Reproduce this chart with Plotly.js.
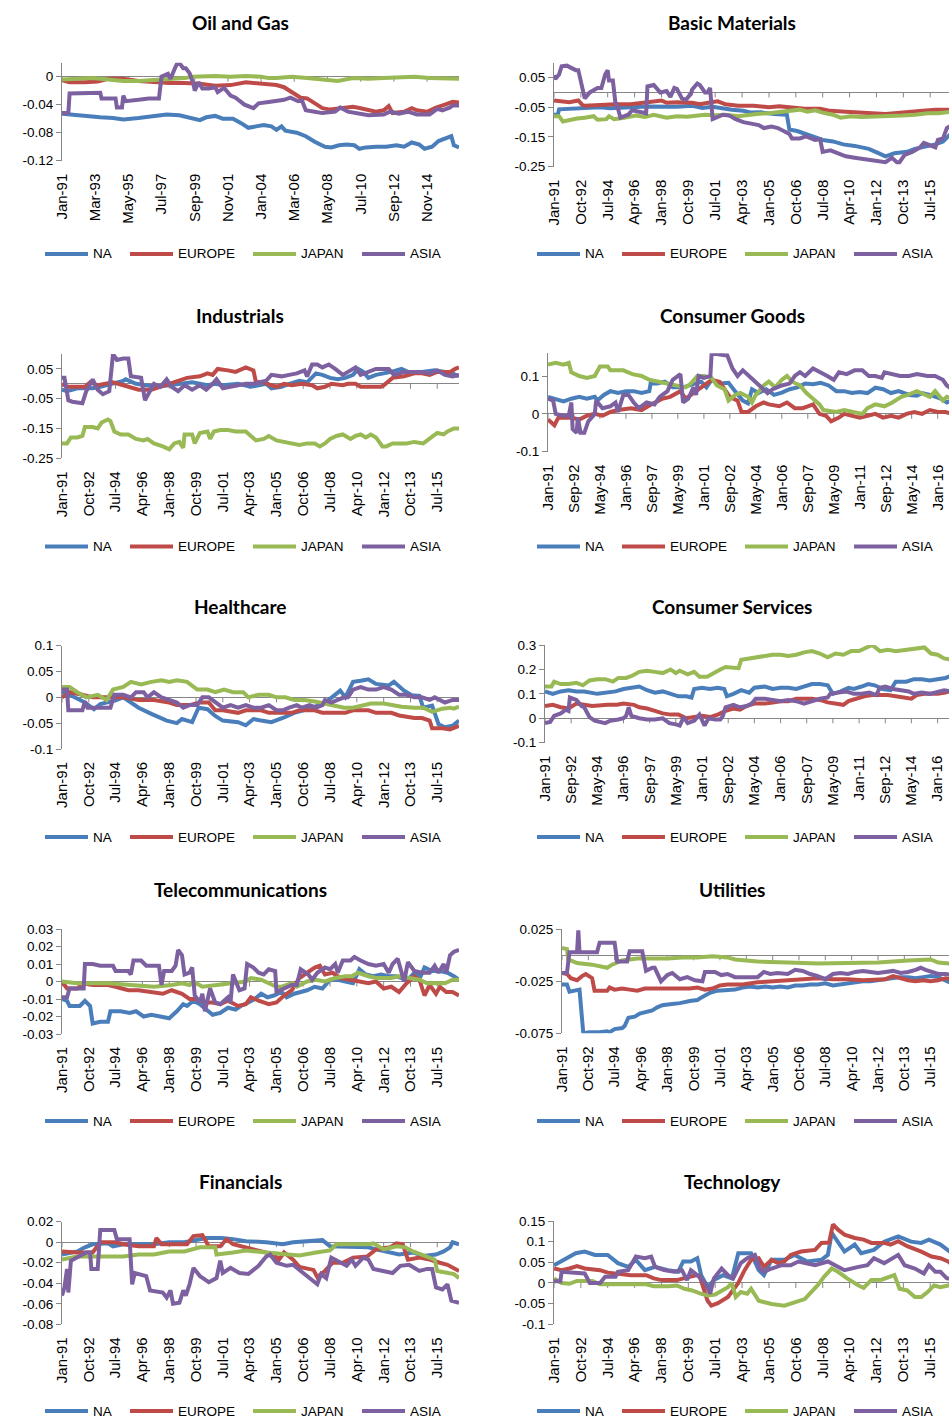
<!DOCTYPE html>
<html><head><meta charset="utf-8">
<script src="https://cdn.plot.ly/plotly-3.0.1.min.js"></script>
<style>html,body{margin:0;padding:0;overflow:hidden;background:#fff}#chart{width:984px;height:1421px}</style>
</head><body><div id="chart"></div>
<script>
// ---------------- DATA ----------------
const regions = ["NA", "EUROPE", "JAPAN", "ASIA"];
const sectors = ["Oil and Gas", "Basic Materials", "Industrials", "Consumer Goods", "Healthcare",
  "Consumer Services", "Telecommunications", "Utilities", "Financials", "Technology"];
const dateStart = "1991-01-01", dateEnd = "2016-12-01";

// [decimal year, value]
const oilNA = [[1991,-.053],[1991.8,-.055],[1992.5,-.057],[1993.5,-.058],[1994.3,-.059],[1995,-.061],[1996,-.059],[1997,-.056],[1997.8,-.054],[1998.7,-.055],[1999.6,-.06],[2000,-.062],[2000.4,-.058],[2001,-.056],[2001.5,-.06],[2002.2,-.06],[2002.7,-.066],[2003.2,-.073],[2003.7,-.071],[2004.2,-.069],[2004.7,-.071],[2005,-.076],[2005.3,-.071],[2005.6,-.077],[2006.3,-.08],[2006.9,-.085],[2007.5,-.093],[2008.2,-.1],[2008.6,-.101],[2009.1,-.098],[2009.6,-.097],[2010.1,-.098],[2010.4,-.103],[2010.8,-.101],[2011.5,-.1],[2012.2,-.1],[2012.8,-.098],[2013.3,-.1],[2013.8,-.094],[2014.3,-.097],[2014.7,-.103],[2015.2,-.1],[2015.6,-.092],[2016,-.089],[2016.4,-.085],[2016.6,-.098],[2016.92,-.101]];
const oilEU = [[1991,-.005],[1991.5,-.008],[1992.5,-.008],[1993.3,-.007],[1994,-.003],[1995,-.003],[1996,-.006],[1997,-.008],[1998,-.009],[1999,-.009],[2000,-.01],[2001,-.013],[2002,-.012],[2003,-.008],[2004,-.01],[2005,-.012],[2005.5,-.015],[2006,-.022],[2006.6,-.03],[2007,-.031],[2007.5,-.038],[2008,-.045],[2008.5,-.047],[2009.2,-.045],[2010,-.043],[2010.5,-.045],[2011.5,-.05],[2012,-.048],[2012.3,-.042],[2012.6,-.052],[2013.3,-.05],[2013.8,-.045],[2014.2,-.048],[2014.8,-.05],[2015.4,-.044],[2016,-.04],[2016.5,-.036],[2016.92,-.037]];
const oilJP = [[1991,-.004],[1992,-.003],[1993,-.002],[1994,-.004],[1995,-.006],[1996,-.006],[1997,-.005],[1998,-.003],[1999,-.002],[1999.5,0],[2001,.001],[2002,0],[2003,.001],[2004,0],[2004.5,-.002],[2005,-.002],[2006,0],[2007,-.002],[2008,-.004],[2009,-.006],[2010,-.002],[2011,-.003],[2012,-.002],[2013,-.001],[2014,0],[2015,-.002],[2016,-.002],[2016.92,-.003]];
const oilAS = [[1991,-.052],[1991.4,-.052],[1991.5,-.024],[1993.5,-.023],[1993.6,-.031],[1994.5,-.031],[1994.6,-.044],[1994.9,-.044],[1995,-.027],[1995.2,-.035],[1996,-.033],[1996.7,-.031],[1997.3,-.031],[1997.5,0],[1997.9,.004],[1998.1,-.003],[1998.3,.01],[1998.6,.022],[1998.9,.012],[1999.1,.012],[1999.3,.005],[1999.6,-.01],[1999.7,-.02],[1999.9,-.008],[2000.2,-.017],[2000.6,-.017],[2001,-.015],[2001.2,-.022],[2001.6,-.016],[2002,-.027],[2002.3,-.03],[2002.9,-.04],[2003.5,-.045],[2003.8,-.038],[2004.5,-.036],[2005.5,-.033],[2005.9,-.03],[2006.4,-.035],[2006.7,-.034],[2006.9,-.048],[2007.5,-.05],[2008,-.052],[2008.8,-.05],[2009.2,-.044],[2009.7,-.05],[2010.3,-.053],[2011,-.055],[2012,-.054],[2012.4,-.05],[2013,-.053],[2013.6,-.05],[2014.2,-.054],[2015,-.054],[2015.5,-.046],[2015.8,-.048],[2016.3,-.044],[2016.5,-.041],[2016.92,-.041]];

const bmNA = [[1991,-.075],[1991.25,-.075],[1991.35,-.057],[1992,-.055],[1993,-.052],[1994,-.05],[1994.7,-.053],[1995.5,-.053],[1996,-.05],[1997,-.047],[1998,-.048],[1999,-.048],[2000,-.045],[2000.7,-.052],[2001.3,-.048],[2002,-.055],[2002.6,-.058],[2003.3,-.062],[2003.8,-.068],[2004.5,-.067],[2005.3,-.073],[2006.2,-.075],[2006.3,-.125],[2006.8,-.13],[2007.8,-.15],[2008.5,-.16],[2009.2,-.165],[2009.8,-.175],[2010.6,-.18],[2011.5,-.19],[2012.2,-.205],[2012.6,-.215],[2013.2,-.205],[2014,-.2],[2014.5,-.19],[2015.3,-.18],[2015.8,-.175],[2016.3,-.165],[2016.6,-.15],[2016.92,-.135]];
const bmEU = [[1991,-.027],[1991.5,-.03],[1992,-.033],[1992.6,-.027],[1992.8,-.042],[1993,-.045],[1994,-.042],[1995,-.04],[1996,-.04],[1996.5,-.036],[1997.5,-.03],[1998,-.027],[1998.3,-.035],[1999,-.033],[2000,-.035],[2000.5,-.04],[2001.3,-.032],[2001.7,-.03],[2002.2,-.04],[2003,-.045],[2004,-.045],[2005,-.05],[2005.7,-.047],[2006.3,-.05],[2007.3,-.055],[2008.3,-.055],[2009,-.062],[2010,-.065],[2011,-.068],[2012,-.07],[2012.6,-.073],[2013.2,-.07],[2014,-.065],[2015,-.062],[2015.8,-.058],[2016.92,-.058]];
const bmJP = [[1991,-.08],[1991.3,-.08],[1991.6,-.098],[1992,-.093],[1992.5,-.088],[1993,-.085],[1993.6,-.08],[1993.8,-.092],[1994.4,-.09],[1994.6,-.08],[1994.9,-.09],[1995.6,-.085],[1996.3,-.078],[1996.9,-.083],[1997.5,-.075],[1998.3,-.085],[1999,-.08],[1999.7,-.082],[2000.3,-.078],[2000.8,-.075],[2001.5,-.077],[2002.2,-.075],[2003,-.08],[2003.7,-.075],[2004.3,-.072],[2005,-.07],[2005.7,-.067],[2006.3,-.063],[2007,-.058],[2007.5,-.065],[2008,-.06],[2008.5,-.068],[2009.2,-.075],[2009.7,-.085],[2010.3,-.08],[2011,-.083],[2012,-.082],[2013,-.08],[2013.7,-.078],[2014.5,-.075],[2015.3,-.07],[2016,-.07],[2016.92,-.065]];
const bmAS = [[1991,.058],[1991.1,.045],[1991.3,.06],[1991.5,.088],[1991.8,.09],[1992,.085],[1992.4,.075],[1992.6,.075],[1992.9,0],[1993,-.02],[1993.3,0],[1993.8,.015],[1994.1,.015],[1994.3,.06],[1994.5,.075],[1994.6,.04],[1994.8,.04],[1995,-.035],[1995.1,-.04],[1995.3,-.085],[1995.6,-.08],[1995.8,-.075],[1996.1,-.06],[1996.6,-.065],[1997,-.07],[1997.1,.02],[1997.5,.025],[1997.9,0],[1998.3,.005],[1998.6,-.015],[1998.8,.015],[1999,.012],[1999.3,-.02],[1999.6,-.025],[1999.9,-.005],[2000,.01],[2000.3,.03],[2000.5,.025],[2000.8,0],[2001,0],[2001.2,.015],[2001.3,-.09],[2001.6,-.085],[2002,-.075],[2002.4,-.078],[2002.8,-.09],[2003.3,-.1],[2003.8,-.105],[2004.3,-.11],[2004.7,-.12],[2005.2,-.115],[2005.6,-.12],[2006,-.13],[2006.3,-.14],[2006.5,-.155],[2007,-.155],[2007.4,-.148],[2008,-.16],[2008.3,-.158],[2008.5,-.2],[2009,-.195],[2009.5,-.205],[2010,-.215],[2010.6,-.22],[2011.4,-.225],[2012.1,-.23],[2012.6,-.235],[2013,-.22],[2013.3,-.235],[2013.5,-.235],[2013.8,-.21],[2014.3,-.2],[2014.8,-.185],[2015.1,-.17],[2015.5,-.18],[2015.8,-.185],[2016,-.16],[2016.3,-.155],[2016.6,-.12],[2016.92,-.11]];

const inNA = [[1991,-.02],[1991.3,-.025],[1992,-.015],[1993,-.015],[1993.5,-.01],[1994.3,0],[1995,.01],[1995.2,.015],[1995.8,0],[1996.5,-.005],[1997.2,-.01],[1998,-.005],[1998.8,0],[1999.5,.005],[2000.5,-.005],[2001,0],[2001.5,-.005],[2002.5,0],[2003.3,-.01],[2004,-.005],[2004.3,0],[2004.7,-.015],[2005.3,-.01],[2005.8,0],[2006.5,.01],[2007,.005],[2007.6,.035],[2008,.03],[2008.5,.02],[2009,.015],[2009.5,.02],[2010,.03],[2010.3,.05],[2010.7,.04],[2011,.02],[2011.5,.03],[2012,.035],[2012.5,.04],[2013.2,.05],[2013.6,.04],[2014.5,.04],[2015.3,.045],[2016,.04],[2016.5,.035],[2016.92,.025]];
const inEU = [[1991,0],[1991.3,-.01],[1992.5,-.01],[1992.8,.005],[1993.3,-.005],[1994,0],[1994.3,.005],[1995,-.005],[1996,-.02],[1996.8,-.02],[1997.3,-.01],[1998,0],[1998.6,.01],[1999.2,.02],[2000,.025],[2000.5,.035],[2000.8,.03],[2001.2,.05],[2001.8,.045],[2002.3,.04],[2003,.055],[2003.5,.045],[2003.7,.005],[2004.2,.005],[2004.7,-.005],[2005,-.01],[2005.5,0],[2006,-.005],[2006.7,0],[2007.3,-.005],[2007.7,-.015],[2008.2,-.01],[2008.6,0],[2009.3,-.005],[2009.7,0],[2010.2,0],[2010.5,-.01],[2011.3,-.01],[2011.8,-.01],[2012,-.005],[2012.3,.01],[2012.6,.02],[2013.3,.025],[2014,.035],[2014.5,.035],[2015,.03],[2015.5,.04],[2016.3,.04],[2016.7,.05],[2016.92,.055]];
const inJP = [[1991,-.2],[1991.3,-.2],[1991.6,-.18],[1992,-.18],[1992.3,-.175],[1992.5,-.145],[1993,-.145],[1993.3,-.15],[1993.6,-.13],[1994,-.12],[1994.2,-.125],[1994.4,-.16],[1994.8,-.17],[1995.3,-.17],[1995.8,-.185],[1996.3,-.19],[1996.6,-.185],[1997,-.2],[1997.6,-.21],[1998,-.22],[1998.3,-.2],[1998.7,-.195],[1998.9,-.215],[1999,-.17],[1999.5,-.17],[1999.7,-.2],[2000,-.165],[2000.5,-.16],[2000.7,-.185],[2000.9,-.16],[2001.3,-.155],[2001.8,-.155],[2002.3,-.16],[2003,-.16],[2003.3,-.175],[2003.7,-.19],[2004.2,-.185],[2004.5,-.175],[2005,-.19],[2005.5,-.195],[2006,-.2],[2006.5,-.205],[2007,-.2],[2007.5,-.2],[2007.8,-.21],[2008.2,-.2],[2008.5,-.185],[2008.9,-.175],[2009.3,-.17],[2009.8,-.185],[2010.2,-.175],[2010.5,-.17],[2010.8,-.18],[2011.2,-.17],[2011.5,-.18],[2011.9,-.21],[2012.2,-.21],[2012.6,-.2],[2013.5,-.2],[2014,-.195],[2014.6,-.2],[2015.1,-.18],[2015.5,-.165],[2015.9,-.17],[2016.2,-.16],[2016.6,-.15],[2016.92,-.15]];
const inAS = [[1991,.02],[1991.2,.02],[1991.4,-.055],[1991.7,-.06],[1992.3,-.065],[1992.6,-.025],[1993,.015],[1993.3,-.02],[1993.7,-.035],[1994.1,-.025],[1994.3,.1],[1994.6,.08],[1995,.085],[1995.3,.085],[1995.5,.025],[1996.2,.02],[1996.4,-.055],[1996.7,-.03],[1997,0],[1997.4,-.01],[1997.8,.015],[1998.2,-.01],[1998.6,-.025],[1999,-.005],[1999.5,-.02],[2000,-.005],[2000.4,-.02],[2000.8,0],[2001.1,.015],[2001.5,-.015],[2002,-.01],[2002.5,-.005],[2003,0],[2003.5,0],[2004.3,.01],[2004.7,.03],[2005.3,.025],[2005.8,.03],[2006.3,.035],[2006.8,.045],[2007,.025],[2007.3,.065],[2007.7,.065],[2008,.055],[2008.4,.065],[2008.8,.05],[2009.3,.03],[2009.8,.045],[2010.2,.055],[2010.5,.03],[2011,.04],[2011.5,.05],[2012.3,.05],[2012.7,.03],[2013.3,.04],[2014,.04],[2014.5,.04],[2015,.035],[2015.5,.045],[2016,.03],[2016.5,.025],[2016.92,.03]];

const cgNA = [[1991,.045],[1991.5,.04],[1992,.033],[1992.5,.04],[1993,.045],[1993.5,.04],[1994,.045],[1994.2,.035],[1994.6,.05],[1995,.06],[1995.5,.055],[1996,.06],[1996.5,.06],[1997,.055],[1997.5,.06],[1997.6,.08],[1998,.08],[1998.5,.085],[1999,.07],[1999.7,.07],[2000.3,.08],[2000.8,.085],[2001.2,.07],[2001.5,.09],[2002,.08],[2002.6,.082],[2003,.06],[2003.5,.035],[2003.8,.028],[2004.1,.065],[2004.5,.055],[2005,.065],[2005.5,.05],[2006,.056],[2006.5,.065],[2007,.07],[2007.5,.08],[2008,.078],[2008.5,.082],[2009,.075],[2009.5,.06],[2010,.06],[2010.5,.055],[2011,.058],[2011.5,.055],[2012,.069],[2012.5,.065],[2013,.055],[2013.5,.06],[2014.2,.05],[2014.7,.048],[2015,.055],[2015.5,.05],[2016.3,.038],[2016.6,.03],[2016.92,.035]];
const cgEU = [[1991,-.015],[1991.4,-.03],[1991.7,-.01],[1992.5,-.01],[1993,-.015],[1993.5,-.005],[1994,0],[1994.5,-.005],[1995,.005],[1995.5,.01],[1996.3,.015],[1997,.01],[1997.4,.02],[1997.8,.03],[1998.3,.04],[1998.8,.045],[1999.5,.06],[1999.8,.04],[2000.2,.05],[2000.6,.065],[2001,.075],[2001.5,.09],[2002,.085],[2002.4,.06],[2002.7,.045],[2003.2,.035],[2003.4,.005],[2003.8,.005],[2004.3,.02],[2004.8,.03],[2005.2,.025],[2005.8,.02],[2006.3,.03],[2006.8,.015],[2007.3,.015],[2007.7,.02],[2008,.025],[2008.4,0],[2008.8,-.005],[2009.2,-.02],[2009.7,-.01],[2010,0],[2010.5,-.005],[2011,-.01],[2011.5,-.005],[2012,0],[2012.5,-.01],[2013,-.005],[2013.5,-.01],[2014,0],[2014.5,.005],[2015,0],[2015.5,.01],[2016,.005],[2016.5,.005],[2016.92,0]];
const cgJP = [[1991,.13],[1991.5,.135],[1992,.13],[1992.3,.135],[1992.5,.11],[1993,.1],[1993.5,.095],[1994,.1],[1994.3,.125],[1994.8,.125],[1995,.115],[1995.8,.115],[1996.4,.105],[1997,.1],[1997.5,.09],[1998.2,.085],[1998.7,.08],[1999.2,.075],[1999.8,.07],[2000.2,.08],[2000.6,.1],[2001,.1],[2001.5,.095],[2001.8,.075],[2002.3,.065],[2002.6,.035],[2003,.05],[2003.3,.055],[2003.8,.045],[2004.1,.03],[2004.3,.05],[2004.8,.075],[2005.2,.085],[2005.6,.07],[2006,.09],[2006.3,.1],[2006.7,.085],[2007.2,.075],[2007.6,.055],[2008,.04],[2008.4,.025],[2008.7,.01],[2009.5,.005],[2010,.01],[2010.7,.005],[2011.2,0],[2011.5,.015],[2012,.025],[2012.6,.02],[2013.1,.03],[2013.7,.045],[2014.1,.05],[2014.7,.06],[2015,.055],[2015.5,.045],[2015.8,.06],[2016.3,.035],[2016.6,.045],[2016.92,.04]];
const cgAS = [[1991,.04],[1991.3,.035],[1991.5,0],[1992,-.005],[1992.3,-.005],[1992.5,.03],[1992.6,-.04],[1992.8,-.05],[1992.95,-.01],[1993.05,-.05],[1993.3,-.05],[1993.6,-.02],[1994,0],[1994.1,.035],[1994.5,.015],[1995,.02],[1995.3,.03],[1995.5,.005],[1995.8,.05],[1996.2,.05],[1996.5,.03],[1996.8,.015],[1997.3,.03],[1997.8,.025],[1998.2,.045],[1998.7,.06],[1999,.09],[1999.5,.105],[1999.7,.03],[2000,.04],[2000.3,.07],[2000.5,.05],[2000.7,.1],[2001,.095],[2001.4,.1],[2001.5,.16],[2002.3,.155],[2002.5,.155],[2002.8,.12],[2003.2,.1],[2003.5,.115],[2004,.095],[2004.4,.08],[2004.8,.065],[2005.1,.055],[2005.4,.065],[2006,.075],[2006.5,.08],[2006.8,.1],[2007.2,.11],[2007.5,.1],[2008,.12],[2008.5,.11],[2008.9,.1],[2009.3,.09],[2009.7,.11],[2010.2,.105],[2010.7,.115],[2011.2,.115],[2011.6,.1],[2012,.1],[2012.4,.095],[2012.6,.11],[2013,.105],[2013.6,.1],[2014.2,.1],[2014.7,.105],[2015.3,.1],[2015.8,.1],[2016.3,.09],[2016.6,.075],[2016.92,.065]];

const hcNA = [[1991,.01],[1991.5,.005],[1992.5,-.01],[1993.1,-.023],[1993.5,-.013],[1994.5,-.006],[1995,0],[1996,-.02],[1996.8,-.032],[1997.8,-.045],[1998.5,-.05],[1998.8,-.042],[1999.5,-.048],[1999.9,-.02],[2000.5,-.023],[2001,-.036],[2001.5,-.045],[2002.5,-.048],[2003,-.054],[2003.5,-.042],[2004,-.045],[2004.7,-.048],[2005.5,-.039],[2006.2,-.03],[2007,-.023],[2008,-.013],[2008.5,-.003],[2009.2,.013],[2009.5,0],[2010,.03],[2010.5,.032],[2011,.035],[2011.5,.026],[2012.3,.023],[2012.7,.03],[2013.3,.013],[2013.8,.004],[2014.3,.003],[2014.6,-.02],[2015.2,-.016],[2015.6,-.052],[2016,-.058],[2016.5,-.055],[2016.92,-.045]];
const hcEU = [[1991,0],[1991.5,.01],[1992.3,.005],[1993,0],[1994,0],[1995,0],[1996,-.005],[1997,-.005],[1998,-.01],[1998.5,-.015],[1999.3,-.015],[2000,-.01],[2000.6,-.01],[2001,-.025],[2001.5,-.025],[2002.5,-.03],[2003,-.025],[2004,-.025],[2004.5,-.03],[2005.5,-.03],[2006,-.03],[2006.5,-.025],[2007.5,-.025],[2008,-.03],[2009,-.03],[2009.5,-.03],[2010,-.025],[2011,-.025],[2011.5,-.03],[2012.5,-.03],[2013,-.035],[2014,-.04],[2014.5,-.04],[2015,-.045],[2015.2,-.06],[2015.8,-.06],[2016.3,-.062],[2016.92,-.055]];
const hcJP = [[1991,.02],[1991.5,.02],[1992,.01],[1992.6,0],[1993.3,.005],[1993.9,-.005],[1994.3,.015],[1995,.02],[1995.5,.03],[1996.2,.025],[1996.8,.03],[1997.5,.033],[1998,.03],[1998.5,.033],[1999.2,.03],[1999.8,.015],[2000.5,.015],[2001,.01],[2001.6,.015],[2002.2,.01],[2002.8,.01],[2003.2,0],[2003.8,.005],[2004.5,.005],[2005,0],[2005.6,0],[2006.2,-.005],[2006.8,-.005],[2007.5,-.008],[2008.2,-.012],[2008.8,-.015],[2009.4,-.02],[2010,-.02],[2010.6,-.015],[2011.2,-.012],[2012,-.012],[2012.6,-.015],[2013.2,-.018],[2014,-.02],[2014.6,-.02],[2015.2,-.028],[2015.8,-.022],[2016.3,-.02],[2016.6,-.022],[2016.92,-.018]];
const hcAS = [[1991,.015],[1991.3,.015],[1991.4,-.025],[1992.3,-.025],[1992.5,-.008],[1992.7,-.02],[1993.5,-.02],[1994.2,-.02],[1994.4,.005],[1995,.005],[1995.5,0],[1995.8,.01],[1996.3,.01],[1996.6,0],[1997,.01],[1997.5,0],[1998,-.005],[1998.5,-.01],[1998.9,-.02],[1999.3,-.015],[1999.8,-.015],[2000.2,0],[2000.6,0],[2001,-.01],[2001.5,-.02],[2002,-.015],[2002.5,-.02],[2003,-.015],[2003.5,-.02],[2004,-.02],[2004.5,-.015],[2005,-.025],[2005.4,-.025],[2005.8,-.02],[2006.3,-.015],[2006.7,-.02],[2007.2,-.015],[2007.6,-.02],[2008,-.015],[2008.2,-.005],[2008.6,-.01],[2009,-.005],[2009.4,0],[2009.7,0],[2010,.015],[2010.5,.02],[2011,.015],[2011.5,.015],[2012,.02],[2012.5,.015],[2013,.005],[2013.5,.005],[2014,0],[2014.5,0],[2015,-.005],[2015.3,0],[2015.7,-.005],[2016,-.01],[2016.5,-.005],[2016.92,-.005]];

const csNA = [[1991,.11],[1991.5,.1],[1992,.11],[1992.5,.115],[1993,.11],[1993.5,.11],[1994.3,.1],[1995,.105],[1995.5,.11],[1996,.12],[1996.5,.125],[1997,.13],[1997.5,.115],[1998,.105],[1998.5,.11],[1999,.1],[1999.5,.09],[2000,.09],[2000.3,.085],[2000.5,.12],[2001,.125],[2001.5,.12],[2002,.125],[2002.4,.12],[2002.6,.09],[2003,.1],[2003.5,.115],[2004,.105],[2004.3,.125],[2005,.13],[2005.5,.12],[2006,.125],[2006.5,.125],[2007,.12],[2007.5,.13],[2008,.14],[2008.5,.14],[2009,.135],[2009.3,.1],[2009.8,.11],[2010.3,.125],[2010.7,.12],[2011.2,.13],[2011.6,.14],[2012,.135],[2012.5,.12],[2013,.115],[2013.3,.15],[2014,.15],[2014.5,.16],[2015,.16],[2015.5,.155],[2016,.16],[2016.5,.165],[2016.92,.175]];
const csEU = [[1991,.05],[1991.5,.055],[1992,.045],[1992.5,.04],[1993,.06],[1993.5,.055],[1994,.05],[1995,.055],[1995.6,.055],[1996,.06],[1996.7,.055],[1997,.045],[1997.5,.04],[1998,.03],[1998.5,.02],[1999,.015],[1999.5,.015],[2000,0],[2000.5,.005],[2001,.01],[2001.5,.005],[2002,.015],[2002.5,.03],[2003,.04],[2003.4,.035],[2003.8,.05],[2004.3,.06],[2005,.06],[2005.5,.065],[2006,.07],[2006.5,.07],[2007,.08],[2008,.08],[2008.5,.075],[2009,.065],[2009.5,.06],[2010,.055],[2010.3,.07],[2010.8,.08],[2011.3,.09],[2011.8,.095],[2012.3,.095],[2012.8,.095],[2013.3,.09],[2013.8,.085],[2014.3,.08],[2014.7,.095],[2015.2,.1],[2015.7,.1],[2016,.1],[2016.5,.105],[2016.92,.115]];
const csJP = [[1991,.13],[1991.4,.13],[1991.6,.15],[1992,.14],[1992.5,.14],[1993,.145],[1993.4,.135],[1993.8,.155],[1994.3,.16],[1994.8,.16],[1995.3,.15],[1995.7,.165],[1996.2,.165],[1996.6,.175],[1997,.19],[1997.5,.195],[1998,.19],[1998.5,.185],[1999,.2],[1999.3,.185],[1999.6,.195],[2000.1,.18],[2000.5,.19],[2000.8,.17],[2001.3,.17],[2001.8,.19],[2002.2,.2],[2002.5,.21],[2003,.205],[2003.3,.205],[2003.5,.24],[2004,.245],[2004.6,.25],[2005,.255],[2005.5,.26],[2006,.26],[2006.5,.255],[2007,.26],[2007.5,.27],[2008,.275],[2008.5,.265],[2009,.25],[2009.5,.265],[2010,.26],[2010.5,.275],[2011,.275],[2011.5,.29],[2011.8,.3],[2012.3,.275],[2012.8,.28],[2013.3,.275],[2013.8,.28],[2014.3,.285],[2014.8,.29],[2015.2,.29],[2015.6,.265],[2016,.26],[2016.4,.245],[2016.92,.24]];
const csAS = [[1991,-.02],[1991.3,-.015],[1991.6,.01],[1992,.02],[1992.3,.035],[1992.5,.03],[1992.6,.085],[1993,.075],[1993.3,.05],[1993.5,.045],[1993.8,.005],[1994.2,-.01],[1994.8,-.02],[1995.2,-.01],[1995.7,-.005],[1996,0],[1996.2,.01],[1996.3,.045],[1996.5,.01],[1997,0],[1997.5,-.005],[1998,-.005],[1998.5,0],[1998.9,-.02],[1999.3,-.025],[1999.6,-.03],[1999.8,.005],[2000.1,-.02],[2000.5,-.01],[2000.8,.015],[2001.2,-.03],[2001.4,0],[2001.8,-.005],[2002.2,-.005],[2002.3,.01],[2002.5,.045],[2003,.055],[2003.4,.045],[2003.8,.05],[2004.2,.06],[2004.4,.08],[2005,.08],[2005.5,.075],[2006,.07],[2006.5,.075],[2007,.07],[2007.5,.06],[2008,.07],[2008.5,.08],[2009,.085],[2009.2,.1],[2009.7,.105],[2010.2,.11],[2010.7,.1],[2011.2,.1],[2011.7,.105],[2012.1,.095],[2012.3,.125],[2012.7,.13],[2013.2,.12],[2013.8,.115],[2014.2,.11],[2014.5,.1],[2015,.105],[2015.5,.1],[2016,.11],[2016.4,.115],[2016.92,.11]];

const tcNA = [[1991,-.01],[1991.3,-.011],[1991.5,-.014],[1992.2,-.014],[1992.5,-.011],[1992.8,-.014],[1993,-.024],[1993.5,-.023],[1994,-.023],[1994.2,-.017],[1994.8,-.017],[1995.4,-.018],[1995.8,-.017],[1996.3,-.02],[1996.8,-.019],[1997.3,-.02],[1997.6,-.02],[1998,-.021],[1998.5,-.017],[1998.9,-.013],[1999.2,-.014],[1999.6,-.011],[2000,-.013],[2000.4,-.016],[2000.8,-.019],[2001.3,-.018],[2001.8,-.015],[2002.3,-.016],[2002.7,-.014],[2003.2,-.012],[2003.6,-.01],[2004,-.007],[2004.4,-.009],[2004.8,-.008],[2005.3,-.006],[2005.7,-.009],[2006.2,-.007],[2006.6,-.006],[2007,-.005],[2007.5,-.003],[2008,-.004],[2008.5,.001],[2009,.001],[2009.5,0],[2010,-.001],[2010.4,.007],[2010.8,.004],[2011.3,.003],[2011.8,.004],[2012.3,.003],[2012.8,.003],[2013.2,.002],[2013.6,.001],[2014,.005],[2014.4,.003],[2014.7,.008],[2015.2,.006],[2015.7,.006],[2016.2,.005],[2016.6,.003],[2016.92,.001]];
const tcEU = [[1991,0],[1991.3,-.004],[1992,-.004],[1992.4,-.001],[1993,-.002],[1994,-.002],[1994.5,-.003],[1995.3,-.005],[1996,-.005],[1997,-.006],[1997.6,-.007],[1998.2,-.005],[1998.8,-.007],[1999.3,-.01],[1999.8,-.01],[2000.3,-.012],[2000.8,-.012],[2001.3,-.013],[2001.8,-.011],[2002.5,-.014],[2003,-.013],[2003.3,-.009],[2003.8,-.011],[2004.5,-.013],[2005,-.012],[2005.5,-.008],[2006,-.005],[2006.5,.002],[2007,.005],[2007.5,.008],[2007.8,.009],[2008.2,.004],[2008.7,.005],[2009.2,.002],[2009.8,.001],[2010.5,0],[2011,-.001],[2011.5,0],[2012,-.004],[2012.5,-.003],[2013,-.006],[2013.5,-.001],[2014,.003],[2014.3,.001],[2014.7,-.008],[2015,-.002],[2015.4,-.007],[2015.7,-.003],[2016.1,-.006],[2016.5,-.006],[2016.92,-.008]];
const tcJP = [[1991,0],[1992,-.001],[1993,-.001],[1994,-.001],[1995.5,-.002],[1997,-.003],[1998.2,-.002],[1998.8,-.001],[1999.3,-.002],[1999.6,0],[2000.2,-.003],[2001,-.002],[2002,-.001],[2003,0],[2003.3,.002],[2004,.001],[2004.5,-.001],[2005,-.003],[2005.3,-.003],[2006,-.001],[2006.3,-.003],[2007,0],[2007.6,.001],[2008.2,0],[2008.8,.002],[2009.5,.003],[2009.9,.003],[2010.3,.005],[2011,.003],[2011.5,.002],[2012.5,.002],[2013,.003],[2013.7,.002],[2014.3,.001],[2014.8,-.001],[2015.5,-.001],[2016,-.001],[2016.5,.001],[2016.92,.001]];
const tcAS = [[1991,-.009],[1991.3,-.009],[1991.5,-.004],[1992.4,-.004],[1992.5,.01],[1993,.01],[1993.5,.009],[1994.3,.009],[1994.5,.006],[1995.3,.006],[1995.5,.004],[1995.7,.012],[1996.2,.012],[1996.5,.009],[1997.3,.009],[1997.5,-.002],[1997.7,.006],[1998.2,.006],[1998.4,.009],[1998.6,.018],[1998.8,.015],[1999,.004],[1999.3,.005],[1999.5,.008],[1999.7,-.008],[2000,-.012],[2000.2,-.007],[2000.3,-.017],[2000.7,-.004],[2001,-.012],[2001.3,-.013],[2001.8,-.009],[2002,-.012],[2002.2,.004],[2002.6,-.005],[2002.9,-.004],[2003.1,.01],[2003.5,.008],[2003.8,.005],[2004.2,.004],[2004.5,.007],[2004.9,.006],[2005,-.006],[2005.5,-.004],[2006,-.002],[2006.3,-.002],[2006.6,.007],[2007.1,.004],[2007.3,.001],[2007.7,.005],[2008.2,.008],[2008.5,.007],[2008.8,.01],[2009,.005],[2009.3,.012],[2009.8,.012],[2010.1,.014],[2010.5,.012],[2011,.01],[2011.5,.009],[2012,.01],[2012.3,.005],[2012.6,.01],[2012.9,.013],[2013.3,0],[2013.6,.011],[2014,.006],[2014.5,.005],[2015,.005],[2015.3,.009],[2015.6,.005],[2015.9,.01],[2016.1,.005],[2016.3,.015],[2016.6,.017],[2016.92,.018]];

const utNA = [[1991,-.028],[1991.3,-.028],[1991.5,-.035],[1992.2,-.033],[1992.4,-.075],[1992.8,-.074],[1993.5,-.074],[1994,-.073],[1994.2,-.074],[1994.5,-.071],[1995,-.07],[1995.2,-.068],[1995.4,-.06],[1995.8,-.059],[1996.2,-.056],[1996.6,-.054],[1997,-.053],[1997.3,-.05],[1997.7,-.048],[1998.2,-.047],[1998.8,-.046],[1999.5,-.044],[2000,-.043],[2000.3,-.04],[2000.8,-.036],[2001.3,-.034],[2002,-.033],[2002.5,-.033],[2003,-.031],[2003.5,-.03],[2004,-.031],[2004.5,-.03],[2005,-.031],[2005.5,-.03],[2006,-.031],[2006.5,-.029],[2007,-.029],[2007.5,-.028],[2008,-.028],[2008.5,-.027],[2009,-.029],[2009.5,-.028],[2010,-.027],[2010.5,-.026],[2011,-.025],[2011.5,-.025],[2012,-.024],[2012.5,-.023],[2013,-.022],[2013.5,-.021],[2014,-.021],[2014.5,-.022],[2015,-.021],[2015.5,-.02],[2016,-.021],[2016.5,-.024],[2016.92,-.027]];
const utEU = [[1991,-.017],[1991.3,-.018],[1991.6,-.022],[1992,-.024],[1992.3,-.02],[1992.6,-.018],[1993,-.022],[1993.2,-.034],[1994,-.034],[1994.2,-.031],[1994.5,-.033],[1995,-.032],[1995.5,-.033],[1996,-.034],[1996.5,-.032],[1997.5,-.032],[1998.5,-.032],[1999.5,-.032],[2000,-.031],[2000.5,-.033],[2001,-.032],[2001.5,-.029],[2002,-.028],[2003,-.028],[2004,-.026],[2005,-.025],[2006,-.024],[2007,-.023],[2008,-.022],[2009,-.023],[2010,-.023],[2011,-.024],[2012,-.023],[2012.5,-.023],[2013,-.02],[2013.5,-.022],[2014,-.024],[2014.5,-.025],[2015,-.024],[2015.5,-.025],[2016,-.024],[2016.5,-.022],[2016.92,-.023]];
const utJP = [[1991,.007],[1991.3,.006],[1991.4,-.004],[1992,-.0075],[1993,-.009],[1994,-.012],[1994.3,-.009],[1995,-.005],[1996,-.003],[1997,-.003],[1998,-.003],[1999,-.002],[2000,-.002],[2001,-.001],[2002,-.002],[2002.5,-.004],[2004,-.006],[2006,-.007],[2008,-.008],[2010,-.0075],[2012,-.007],[2014,-.005],[2015.5,-.004],[2016,-.007],[2016.92,-.008]];
const utAS = [[1991,-.017],[1991.3,-.017],[1991.5,.003],[1992,.003],[1992.1,.024],[1992.2,.003],[1993.3,.003],[1993.5,.012],[1994.5,.012],[1994.7,-.006],[1995.3,-.006],[1995.5,.004],[1996.3,.004],[1996.6,-.015],[1997,-.012],[1997.2,-.012],[1997.6,-.025],[1998,-.019],[1998.3,-.017],[1998.8,-.023],[1999.3,-.021],[1999.8,-.024],[2000.3,-.025],[2000.5,-.016],[2001.2,-.016],[2001.6,-.019],[2002,-.018],[2002.5,-.021],[2003.3,-.021],[2004,-.021],[2004.4,-.016],[2004.8,-.018],[2005.3,-.017],[2006,-.018],[2006.5,-.014],[2007,-.015],[2007.5,-.018],[2008,-.02],[2008.5,-.023],[2009,-.018],[2009.5,-.017],[2010,-.018],[2010.5,-.016],[2011,-.015],[2011.5,-.016],[2012,-.017],[2012.5,-.016],[2013,-.015],[2013.5,-.017],[2014,-.016],[2014.5,-.014],[2014.8,-.012],[2015.2,-.014],[2015.5,-.016],[2016,-.018],[2016.5,-.018],[2016.92,-.019]];

const fiNA = [[1991,-.012],[1992,-.009],[1992.5,-.005],[1993,-.002],[1994,-.001],[1994.35,-.004],[1995,-.002],[1997,-.002],[1998,0],[1999,0],[2000.4,.004],[2001.3,.004],[2001.4,.004],[2002.2,.003],[2003,.001],[2004.3,0],[2005.4,-.002],[2006.1,0],[2007.4,.001],[2008,.002],[2008.5,-.004],[2009.8,-.005],[2011,-.005],[2011.5,-.007],[2012.4,-.01],[2013,-.012],[2013.9,-.01],[2014.6,-.0135],[2015.45,-.012],[2015.9,-.009],[2016.3,-.005],[2016.5,0],[2016.92,-.002]];
const fiEU = [[1991,-.009],[1992,-.01],[1993,-.01],[1993.5,0],[1994.5,0],[1995,-.002],[1996,-.004],[1997,-.004],[1997.2,.004],[1997.5,-.002],[1999.2,-.002],[1999.55,.006],[2000.2,.007],[2000.6,-.004],[2001.3,-.004],[2001.75,.003],[2002.2,-.002],[2003.5,-.007],[2004.8,-.012],[2005.2,-.017],[2005.5,-.01],[2006.1,-.017],[2006.5,-.024],[2007.4,-.027],[2007.7,-.034],[2008.15,-.028],[2008.7,-.02],[2009.35,-.02],[2010,-.015],[2010.9,-.014],[2011.5,-.007],[2012.4,-.005],[2012.8,-.001],[2013.25,-.002],[2013.6,-.017],[2014.35,-.015],[2015,-.017],[2015.65,-.02],[2016.2,-.022],[2016.92,-.028]];
const fiJP = [[1991,-.017],[1992,-.014],[1995,-.014],[1996,-.012],[1997,-.012],[1998,-.009],[1999,-.009],[2000,-.005],[2001,-.005],[2001.1,-.012],[2002.2,-.01],[2003,-.008],[2004.3,-.01],[2006.1,-.012],[2006.5,-.013],[2007.6,-.01],[2008.5,-.008],[2008.9,-.002],[2010,-.002],[2011,-.002],[2011.3,-.001],[2012,-.007],[2012.8,-.004],[2013.4,-.005],[2013.9,-.009],[2014.8,-.014],[2015.3,-.017],[2015.5,-.028],[2016.1,-.03],[2016.6,-.031],[2016.92,-.035]];
const fiAS = [[1991,-.052],[1991.2,-.044],[1991.3,-.026],[1991.4,-.049],[1991.55,-.018],[1992,-.015],[1992.6,-.01],[1992.8,-.01],[1992.9,-.026],[1993.35,-.026],[1993.5,.012],[1994.45,.012],[1994.55,.003],[1995.4,.003],[1995.55,-.041],[1995.75,-.03],[1996.5,-.033],[1996.75,-.047],[1997.6,-.049],[1997.8,-.054],[1998.05,-.047],[1998.25,-.06],[1998.7,-.059],[1998.9,-.047],[1999.1,-.052],[1999.35,-.041],[1999.55,-.025],[2000,-.033],[2000.55,-.039],[2001.1,-.035],[2001.3,-.018],[2001.5,-.03],[2002,-.025],[2002.6,-.03],[2003.15,-.031],[2003.8,-.023],[2004.35,-.014],[2004.55,-.012],[2005,-.02],[2005.65,-.023],[2006.1,-.022],[2006.75,-.03],[2007.4,-.038],[2007.7,-.041],[2007.95,-.031],[2008.25,-.035],[2008.6,-.015],[2009.15,-.02],[2009.55,-.023],[2009.9,-.017],[2010.2,-.023],[2010.65,-.015],[2011,-.017],[2011.3,-.026],[2011.95,-.028],[2012.6,-.03],[2013.05,-.023],[2013.7,-.022],[2014.35,-.028],[2014.8,-.026],[2015.2,-.026],[2015.45,-.044],[2015.85,-.046],[2016.2,-.041],[2016.4,-.057],[2016.92,-.059]];

const teNA = [[1991,.043],[1991.7,.056],[1992.4,.072],[1993,.076],[1993.7,.068],[1994.5,.068],[1995.2,.048],[1995.8,.039],[1996.3,.056],[1996.9,.031],[1997.6,.039],[1998.4,.031],[1999.1,.027],[1999.4,.052],[1999.95,.052],[2000.3,.06],[2000.6,.019],[2001,-.01],[2001.45,.007],[2002,.019],[2002.55,.011],[2003,.072],[2003.85,.072],[2004.3,.031],[2004.7,.019],[2005.15,.056],[2006,.056],[2006.65,.068],[2007.5,.052],[2008.4,.056],[2008.8,.068],[2009.05,.121],[2009.5,.097],[2009.9,.076],[2010.55,.093],[2011,.072],[2011.85,.08],[2012.5,.1],[2013.4,.113],[2014.25,.1],[2014.9,.097],[2015.45,.105],[2016.2,.093],[2016.7,.08],[2016.92,.072]];
const teEU = [[1991,.035],[1991.5,.031],[1992,.035],[1992.5,.041],[1993,.035],[1994,.031],[1994.5,.025],[1995,.023],[1996,.019],[1997,.019],[1997.5,.011],[1998,.007],[1998.5,.008],[1999,.007],[1999.8,.015],[2000.3,.019],[2000.5,.015],[2001,-.043],[2001.25,-.055],[2001.7,-.049],[2002.3,-.034],[2003,0],[2003.4,.031],[2003.85,.056],[2004.3,.06],[2004.7,.039],[2005.15,.056],[2005.6,.048],[2006,.052],[2006.45,.068],[2007.1,.076],[2008,.08],[2008.4,.097],[2008.9,.098],[2009.15,.142],[2009.5,.129],[2009.9,.117],[2010.55,.109],[2011.2,.105],[2011.65,.097],[2012.5,.097],[2012.95,.093],[2013.4,.101],[2014,.089],[2014.9,.076],[2015.55,.064],[2016.2,.06],[2016.7,.052],[2016.92,.045]];
const teJP = [[1991,.011],[1991.5,0],[1992,-.002],[1992.5,.005],[1993.5,.005],[1994,-.003],[1997,-.003],[1997.5,-.008],[1998.5,-.008],[1999,-.006],[1999.5,-.014],[2000,-.018],[2000.5,-.025],[2001,-.03],[2001.5,-.028],[2002.3,-.01],[2002.55,0],[2002.8,-.034],[2003.2,-.022],[2003.6,-.026],[2003.85,-.014],[2004.3,-.043],[2005.15,-.051],[2006,-.055],[2006.65,-.047],[2007.3,-.039],[2007.75,-.022],[2008.2,-.006],[2008.6,.015],[2009.05,.035],[2009.5,.027],[2010.1,.011],[2010.8,-.006],[2011.2,-.012],[2011.65,.007],[2012.3,.008],[2013.2,.019],[2013.5,-.014],[2014,-.018],[2014.5,-.034],[2014.9,-.034],[2015.35,-.022],[2015.75,-.006],[2016.2,-.01],[2016.7,-.006],[2016.92,-.003]];
const teAS = [[1991,.004],[1991.4,.004],[1991.5,.027],[1992.5,.025],[1993,.023],[1993.3,0],[1994,0],[1994.3,.015],[1995,.015],[1995.2,.027],[1995.8,.031],[1996.35,.064],[1996.9,.06],[1997.3,.064],[1997.55,.039],[1998.2,.031],[1998.85,.027],[1999.3,.031],[1999.7,.007],[1999.95,.031],[2000.3,.019],[2000.8,0],[2001.05,-.022],[2001.15,-.026],[2001.45,.011],[2001.9,.035],[2002.3,.019],[2002.65,.011],[2003.2,.048],[2003.6,.06],[2004.05,.068],[2004.4,.035],[2004.7,.027],[2005.15,.035],[2005.8,.043],[2006.45,.043],[2006.9,.052],[2007.5,.048],[2008,.043],[2008.8,.052],[2009.5,.039],[2009.9,.031],[2010.8,.039],[2011.45,.043],[2011.85,.06],[2012.5,.048],[2013.4,.068],[2013.8,.043],[2014.5,.035],[2015.1,.023],[2015.45,.043],[2015.85,.027],[2016.2,.027],[2016.6,.011],[2016.92,.01]];

// y-axis tick values and ranges
const oilYTicks = [-0.12, -0.08, -0.04, 0], oilYRange = [-0.12, 0.02];
const bmYTicks = [-0.25, -0.15, -0.05, 0.05], bmYRange = [-0.25, 0.1];
const inYTicks = [-0.25, -0.15, -0.05, 0.05], inYRange = [-0.25, 0.1];
const cgYTicks = [-0.1, 0, 0.1], cgYRange = [-0.1, 0.16];
const hcYTicks = [-0.1, -0.05, 0, 0.05, 0.1], hcYRange = [-0.1, 0.1];
const csYTicks = [-0.1, 0, 0.1, 0.2, 0.3], csYRange = [-0.1, 0.3];
const tcYTicks = [-0.03, -0.02, -0.01, 0, 0.01, 0.02, 0.03], tcYRange = [-0.03, 0.03];
const utYTicks = [-0.075, -0.025, 0.025], utYRange = [-0.075, 0.025];
const fiYTicks = [-0.08, -0.06, -0.04, -0.02, 0, 0.02], fiYRange = [-0.08, 0.02];
const teYTicks = [-0.1, -0.05, 0, 0.05, 0.1, 0.15], teYRange = [-0.1, 0.15];
// x tick label interval (months)
const xTickMonths = [26, 21, 21, 20, 21, 20, 21, 21, 21, 21];

// ---------------- LAYOUT / STYLE ----------------
const W = 984, H = 1421;
const colors = ["#4A7EBB", "#BE4B48", "#98B954", "#7D60A0"];
const axisGray = "#868686";
const fontBody = "Liberation Sans, Arial, sans-serif";
const fontTitle = "Lato, Carlito, Calibri, sans-serif";
const panelData = [
  [oilNA, oilEU, oilJP, oilAS, oilYTicks, oilYRange],
  [bmNA, bmEU, bmJP, bmAS, bmYTicks, bmYRange],
  [inNA, inEU, inJP, inAS, inYTicks, inYRange],
  [cgNA, cgEU, cgJP, cgAS, cgYTicks, cgYRange],
  [hcNA, hcEU, hcJP, hcAS, hcYTicks, hcYRange],
  [csNA, csEU, csJP, csAS, csYTicks, csYRange],
  [tcNA, tcEU, tcJP, tcAS, tcYTicks, tcYRange],
  [utNA, utEU, utJP, utAS, utYTicks, utYRange],
  [fiNA, fiEU, fiJP, fiAS, fiYTicks, fiYRange],
  [teNA, teEU, teJP, teAS, teYTicks, teYRange]
];
const geom = [
  {left: 62, top: 62.7, bottom: 160.7, titleY: 23, legY: 254},
  {left: 554, top: 62.7, bottom: 166.7, titleY: 23, legY: 254},
  {left: 62, top: 354, bottom: 458.3, titleY: 315, legY: 546.5},
  {left: 548, top: 353.3, bottom: 451.7, titleY: 315, legY: 546.5},
  {left: 62, top: 645.7, bottom: 749, titleY: 606, legY: 837},
  {left: 545, top: 645, bottom: 742.7, titleY: 606, legY: 837},
  {left: 62, top: 929, bottom: 1034, titleY: 890, legY: 1121},
  {left: 562, top: 929.3, bottom: 1033.3, titleY: 890, legY: 1121},
  {left: 62, top: 1221.7, bottom: 1324.3, titleY: 1181, legY: 1411},
  {left: 554, top: 1221, bottom: 1324.3, titleY: 1181, legY: 1411}
];
const colRight = [459, 952], colShift = [0, 492];
const titleX = 240;
const legLineX = [45, 130, 253, 362], legLineLen = 43, legTextGap = 3;

const PX = v => v / W, PY = v => 1 - v / H;
function toDate(t) {
  let y = Math.floor(t + 1e-6);
  let m = Math.round((t - y) * 12);
  if (m >= 12) { y += 1; m -= 12; }
  return y + "-" + String(m + 1).padStart(2, "0") + "-01";
}
function addMonths(n) {
  const y = 1991 + Math.floor(n / 12), m = n % 12;
  return y + "-" + String(m + 1).padStart(2, "0") + "-01";
}

const traces = [];
const layout = {
  width: W, height: H, margin: {l: 0, r: 0, t: 0, b: 0},
  paper_bgcolor: "#fff", plot_bgcolor: "rgba(0,0,0,0)",
  showlegend: false, hovermode: false,
  annotations: [], shapes: []
};

panelData.forEach((pd, i) => {
  const k = i + 1, sfx = k === 1 ? "" : String(k);
  const col = i % 2, g = geom[i];
  const xName = "xaxis" + sfx, yName = "yaxis" + sfx;
  const xRef = "x" + sfx, yRef = "y" + sfx;
  for (let s = 0; s < 4; s++) {
    traces.push({
      type: "scatter", mode: "lines", name: regions[s],
      x: pd[s].map(p => toDate(p[0])), y: pd[s].map(p => p[1]),
      xaxis: xRef, yaxis: yRef,
      line: {color: colors[s], width: 4}, showlegend: false
    });
  }
  layout[xName] = {
    domain: [PX(g.left), PX(colRight[col])], anchor: yRef, type: "date",
    range: [dateStart, dateEnd], tick0: dateStart, dtick: "M" + xTickMonths[i],
    tickformat: "%b-%y", tickangle: -90, ticks: "", showline: false,
    showgrid: false, zeroline: false, ticklabelstandoff: 9,
    tickfont: {family: fontBody, size: 15, color: "#000"}
  };
  layout[yName] = {
    domain: [PY(g.bottom), PY(g.top)], anchor: xRef, range: pd[5],
    tickmode: "array", tickvals: pd[4], ticktext: pd[4].map(String),
    ticks: "outside", ticklen: 5, tickcolor: axisGray, tickwidth: 1,
    showline: true, linecolor: axisGray, linewidth: 1,
    zeroline: true, zerolinecolor: axisGray, zerolinewidth: 1,
    showgrid: false, ticklabelstandoff: 0,
    tickfont: {family: fontBody, size: 13.5, color: "#000"}
  };
  // tick marks on the horizontal (zero) axis line
  for (let m = 0; m <= 311; m += xTickMonths[i]) {
    const d = addMonths(m);
    layout.shapes.push({type: "line", xref: xRef, yref: yRef, x0: d, x1: d,
      ysizemode: "pixel", yanchor: 0, y0: 0, y1: -5, layer: "below",
      line: {color: axisGray, width: 1}});
  }
  // title
  layout.annotations.push({text: "<b>" + sectors[i] + "</b>", xref: "paper", yref: "paper",
    x: PX(titleX + colShift[col]), y: PY(g.titleY), xanchor: "center", yanchor: "middle",
    showarrow: false, font: {family: fontTitle, size: 19, color: "#000"}});
  // legend
  for (let s = 0; s < 4; s++) {
    const x0 = legLineX[s] + colShift[col];
    layout.shapes.push({type: "line", xref: "paper", yref: "paper",
      x0: PX(x0), x1: PX(x0 + legLineLen), y0: PY(g.legY), y1: PY(g.legY),
      line: {color: colors[s], width: 4}});
    layout.annotations.push({text: regions[s], xref: "paper", yref: "paper",
      x: PX(x0 + legLineLen + legTextGap), y: PY(g.legY), xanchor: "left", yanchor: "middle",
      showarrow: false, font: {family: fontBody, size: 13.5, color: "#000"}});
  }
});

Plotly.newPlot("chart", traces, layout, {displayModeBar: false, staticPlot: true});
</script></body></html>
